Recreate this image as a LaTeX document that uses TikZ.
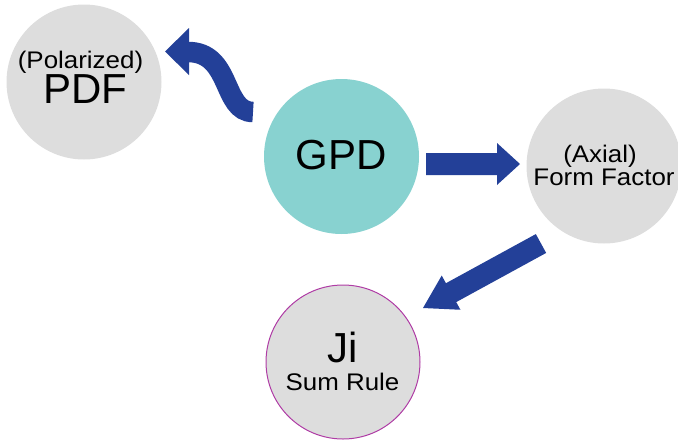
\documentclass[tikz,border=0pt]{standalone}
\usepackage{fontspec}
\setmainfont{Liberation Sans}
\usetikzlibrary{calc}
\definecolor{arrowblue}{RGB}{35,64,152}
\definecolor{gpdteal}{RGB}{136,210,208}
\definecolor{circgray}{RGB}{221,221,221}
\definecolor{jiborder}{RGB}{175,60,165}
\newcommand\smalltxt[1]{\fontsize{24}{24}\selectfont\scalebox{1.08}[1]{#1}}
\newcommand\bigtxt[1]{\fontsize{42}{42}\selectfont #1}
\newcommand\blockarrow[5]{%
  \coordinate (hb) at ($(#2)!#5!(#1)$);
  \fill[arrowblue] ($(#1)!#3!90:(#2)$) -- ($(hb)!#3!90:(#2)$) -- ($(hb)!#4!90:(#2)$) -- (#2)
    -- ($(hb)!#4!-90:(#2)$) -- ($(hb)!#3!-90:(#2)$) -- ($(#1)!#3!-90:(#2)$) -- cycle;}
\begin{document}
\begin{tikzpicture}[x=1pt,y=-1pt,
  circ/.style={circle, minimum size=155pt, inner sep=0pt, outer sep=0pt},
  graycirc/.style={circ, fill=circgray},
  tealcirc/.style={circ, fill=gpdteal},
  txt/.style={anchor=base, inner sep=0pt, text=black}]
\useasboundingbox (0,0) rectangle (678,440);
\node[graycirc] (pdf) at (84,82) {};
\node[tealcirc] (gpd) at (341.5,156.5) {};
\node[graycirc] (ff) at (604,166) {};
\node[graycirc, draw=jiborder, line width=1pt, minimum size=154pt] (ji) at (343,362) {};
\node[txt] (polt) at (80.5,68) {\smalltxt{(Polarized)}};
\node[txt] (pdft) at (85.5,103) {\bigtxt{PDF}};
\node[txt] (gpdt) at (341.5,169) {\bigtxt{GPD}};
\node[txt] (axt) at (600,162) {\smalltxt{(Axial)}};
\node[txt] (fft) at (604,185) {\smalltxt{Form Factor}};
\node[txt] (jit) at (343,362) {\bigtxt{Ji}};
\node[txt] (srt) at (342.5,390) {\smalltxt{Sum Rule}};
% straight arrows
\coordinate (a1t) at (426,164);
\coordinate (a1h) at (520,164);
\blockarrow{a1t}{a1h}{11pt}{21pt}{23pt}
\coordinate (a2t) at (541,243.5);
\coordinate (a2h) at (423,308);
\blockarrow{a2t}{a2h}{10.75pt}{19.5pt}{32pt}
% wavy arrow
\coordinate (w1) at (253,112);
\coordinate (w2) at (188,52);
\coordinate (wtip) at (165,51.5);
\draw[arrowblue, line width=20.5pt] (w1) .. controls (222,112) and (232,52) .. (w2);
\fill[arrowblue] (189,28) -- (wtip) -- (189,75) -- cycle;
\end{tikzpicture}
\end{document}
